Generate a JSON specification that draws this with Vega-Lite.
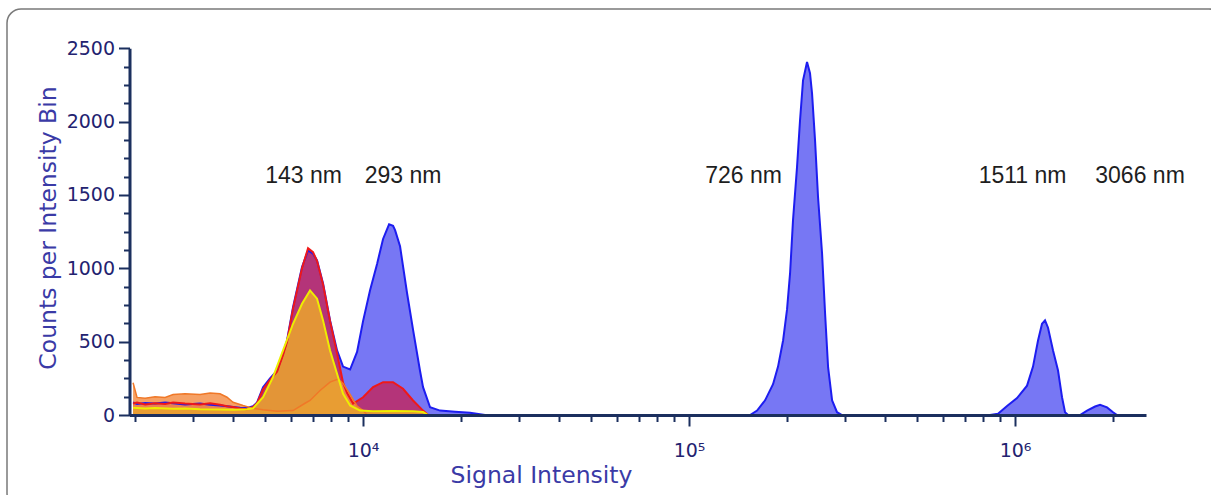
{
  "$schema": "https://vega.github.io/schema/vega-lite/v6.json",
  "autosize": {"type": "none"},
  "padding": {"left": 7, "top": 9, "right": -12, "bottom": -12},
  "width": 1216,
  "height": 498,
  "background": "white",
  "view": {"stroke": "#7a7a7a", "strokeWidth": 1.5, "cornerRadius": 14, "fill": "white"},
  "datasets": {
    "blue": [
      {"v":1970,"c":85},{"v":2026,"c":75},{"v":2145,"c":82},{"v":2301,"c":78},{"v":2470,"c":85},{"v":2614,"c":80},{"v":2844,"c":72},{"v":3162,"c":78},{"v":3394,"c":70},{"v":3641,"c":65},{"v":3825,"c":60},{"v":3991,"c":55},{"v":4194,"c":50},{"v":4407,"c":48},{"v":4598,"c":60},{"v":4729,"c":85},{"v":4934,"c":190},{"v":5183,"c":250},{"v":5446,"c":303},{"v":5682,"c":420},{"v":5845,"c":508},{"v":6098,"c":735},{"v":6498,"c":1008},{"v":6780,"c":1122},{"v":7023,"c":1100},{"v":7225,"c":1054},{"v":7538,"c":897},{"v":7920,"c":645},{"v":8322,"c":440},{"v":8683,"c":330},{"v":9124,"c":310},{"v":9585,"c":430},{"v":10000,"c":640},{"v":10507,"c":850},{"v":11040,"c":1030},{"v":11517,"c":1200},{"v":12018,"c":1300},{"v":12360,"c":1290},{"v":12537,"c":1260},{"v":12986,"c":1150},{"v":13646,"c":830},{"v":14237,"c":580},{"v":14956,"c":300},{"v":15276,"c":190},{"v":16053,"c":53},{"v":17228,"c":30},{"v":19149,"c":22},{"v":21290,"c":15},{"v":23670,"c":0},
      {"v":153900,"c":0},{"v":161700,"c":30},{"v":171100,"c":100},{"v":181000,"c":210},{"v":187500,"c":330},{"v":194300,"c":508},{"v":199800,"c":720},{"v":204100,"c":965},{"v":208400,"c":1327},{"v":214400,"c":1690},{"v":219000,"c":2009},{"v":223700,"c":2282},{"v":230100,"c":2407},{"v":235000,"c":2330},{"v":238400,"c":2193},{"v":243500,"c":1872},{"v":248700,"c":1486},{"v":255900,"c":1101},{"v":261400,"c":692},{"v":267000,"c":326},{"v":274700,"c":99},{"v":284400,"c":19},{"v":294600,"c":0},
      {"v":838000,"c":0},{"v":886700,"c":8},{"v":945200,"c":62},{"v":1014200,"c":115},{"v":1088500,"c":200},{"v":1135400,"c":330},{"v":1176300,"c":508},{"v":1210000,"c":622},{"v":1235900,"c":645},{"v":1262400,"c":595},{"v":1307900,"c":440},{"v":1354800,"c":303},{"v":1393700,"c":121},{"v":1423600,"c":19},{"v":1454100,"c":0},{"v":1582800,"c":0},{"v":1663200,"c":30},{"v":1760000,"c":58},{"v":1823200,"c":70},{"v":1915000,"c":52},{"v":1998000,"c":19},{"v":2055400,"c":0}
    ],
    "red": [
      {"v":1970,"c":78},{"v":2026,"c":85},{"v":2145,"c":72},{"v":2301,"c":80},{"v":2470,"c":75},{"v":2614,"c":85},{"v":2844,"c":78},{"v":3162,"c":72},{"v":3394,"c":80},{"v":3641,"c":70},{"v":3825,"c":60},{"v":3991,"c":55},{"v":4194,"c":45},{"v":4407,"c":40},{"v":4598,"c":55},{"v":4729,"c":80},{"v":4934,"c":175},{"v":5183,"c":240},{"v":5446,"c":295},{"v":5682,"c":410},{"v":5845,"c":500},{"v":6098,"c":725},{"v":6498,"c":1000},{"v":6780,"c":1137},{"v":7023,"c":1110},{"v":7225,"c":1050},{"v":7538,"c":890},{"v":7920,"c":640},{"v":8322,"c":420},{"v":8683,"c":220},{"v":8932,"c":150},{"v":9318,"c":78},{"v":10000,"c":121},{"v":10732,"c":190},{"v":11517,"c":224},{"v":12360,"c":224},{"v":13264,"c":179},{"v":14237,"c":99},{"v":15276,"c":30},{"v":15827,"c":0}
    ],
    "salmon": [
      {"v":1970,"c":220},{"v":2026,"c":120},{"v":2145,"c":115},{"v":2301,"c":125},{"v":2470,"c":120},{"v":2614,"c":140},{"v":2844,"c":145},{"v":3162,"c":140},{"v":3394,"c":150},{"v":3641,"c":145},{"v":3825,"c":121},{"v":3991,"c":87},{"v":4284,"c":65},{"v":4598,"c":45},{"v":4934,"c":35},{"v":5446,"c":25},{"v":6098,"c":30},{"v":6637,"c":80},{"v":6876,"c":99},{"v":7380,"c":167},{"v":7920,"c":224},{"v":8382,"c":245},{"v":8683,"c":215},{"v":9124,"c":140},{"v":9585,"c":60},{"v":10000,"c":30},{"v":10287,"c":0}
    ],
    "orange": [
      {"v":1970,"c":50},{"v":2145,"c":45},{"v":2301,"c":48},{"v":2614,"c":42},{"v":2844,"c":45},{"v":3162,"c":40},{"v":3641,"c":38},{"v":3991,"c":35},{"v":4407,"c":40},{"v":4598,"c":45},{"v":4934,"c":121},{"v":5294,"c":258},{"v":5682,"c":440},{"v":6098,"c":622},{"v":6498,"c":758},{"v":6876,"c":849},{"v":7225,"c":793},{"v":7538,"c":645},{"v":7920,"c":440},{"v":8322,"c":281},{"v":8683,"c":145},{"v":9124,"c":65},{"v":9790,"c":30},{"v":10732,"c":25},{"v":12360,"c":28},{"v":14237,"c":25},{"v":15276,"c":20},{"v":15827,"c":0}
    ],
    "labels": [
      {"v":6570,"c":1580,"label":"143 nm"},
      {"v":13264,"c":1580,"label":"293 nm"},
      {"v":147000,"c":1580,"label":"726 nm"},
      {"v":1054400,"c":1580,"label":"1511 nm"},
      {"v":2418000,"c":1580,"label":"3066 nm"}
    ]
  },
  "encoding": {
    "x": {
      "field": "v", "type": "quantitative",
      "scale": {"type": "log", "domain": [1921, 2522000], "range": [122.5, 1139], "nice": false},
      "axis": {
        "orient": "bottom", "offset": -92, "grid": false, "zindex": 1,
        "values": [2000,3000,4000,5000,6000,7000,8000,9000,10000,20000,30000,40000,50000,60000,70000,80000,90000,100000,200000,300000,400000,500000,600000,700000,800000,900000,1000000,2000000],
        "labelExpr": "datum.value == 10000 ? '10⁴' : datum.value == 100000 ? '10⁵' : datum.value == 1000000 ? '10⁶' : ''",
        "labelOverlap": false, "labelFlush": false,
        "domainColor": "#1b2f5e", "domainWidth": 3,
        "tickColor": "#1b2f5e", "tickWidth": 2,
        "tickSize": {"condition": {"test": "datum.value == 10000 || datum.value == 100000 || datum.value == 1000000", "value": 11}, "value": 6.5},
        "labelFont": "DejaVu Sans", "labelFontSize": 19, "labelColor": "#232370", "labelPadding": 15,
        "title": "Signal Intensity", "titleFont": "DejaVu Sans", "titleFontSize": 23.5, "titleFontWeight": "normal", "titleColor": "#3a3aa6",
        "titleX": 534, "titleY": 67, "titleBaseline": "alphabetic", "titleAlign": "center"
      }
    },
    "y": {
      "field": "c", "type": "quantitative",
      "scale": {"domain": [0, 2500], "range": [406, 39.3], "nice": false},
      "axis": {
        "orient": "left", "offset": -122.5, "grid": false, "zindex": 1,
        "values": [0,125,250,375,500,625,750,875,1000,1125,1250,1375,1500,1625,1750,1875,2000,2125,2250,2375,2500],
        "labelExpr": "datum.value % 500 === 0 ? format(datum.value, 'd') : ''",
        "labelOverlap": false, "labelFlush": false,
        "domainColor": "#1b2f5e", "domainWidth": 3,
        "tickColor": "#1b2f5e", "tickWidth": 2,
        "tickSize": {"condition": {"test": "datum.value % 500 === 0", "value": 11}, "value": 6},
        "labelFont": "DejaVu Sans", "labelFontSize": 19, "labelColor": "#232370", "labelPadding": 4,
        "title": "Counts per Intensity Bin", "titleFont": "DejaVu Sans", "titleFontSize": 23.5, "titleFontWeight": "normal", "titleColor": "#3a3aa6",
        "titleX": -74, "titleY": 218.5, "titleAngle": 270, "titleBaseline": "alphabetic", "titleAlign": "center"
      }
    }
  },
  "layer": [
    {"data": {"name": "blue"}, "mark": {"type": "area", "color": "#7777f4", "opacity": 1}},
    {"data": {"name": "red"}, "mark": {"type": "area", "color": "#c81e50", "opacity": 0.75}},
    {"data": {"name": "salmon"}, "mark": {"type": "area", "color": "#f5904a", "opacity": 0.85}},
    {"data": {"name": "orange"}, "mark": {"type": "area", "color": "#e8a030", "opacity": 0.9}},
    {"data": {"name": "blue"}, "mark": {"type": "line", "color": "#1d1df0", "strokeWidth": 2}},
    {"data": {"name": "red"}, "mark": {"type": "line", "color": "#f01818", "strokeWidth": 2}},
    {"data": {"name": "salmon"}, "mark": {"type": "line", "color": "#f07828", "strokeWidth": 1.5}},
    {"data": {"name": "orange"}, "mark": {"type": "line", "color": "#eeee00", "strokeWidth": 2}},
    {"data": {"name": "labels"}, "mark": {"type": "text", "font": "Liberation Sans", "fontSize": 23, "color": "#1e1e1e", "align": "center", "baseline": "alphabetic"}, "encoding": {"text": {"field": "label", "type": "nominal"}}}
  ]
}
